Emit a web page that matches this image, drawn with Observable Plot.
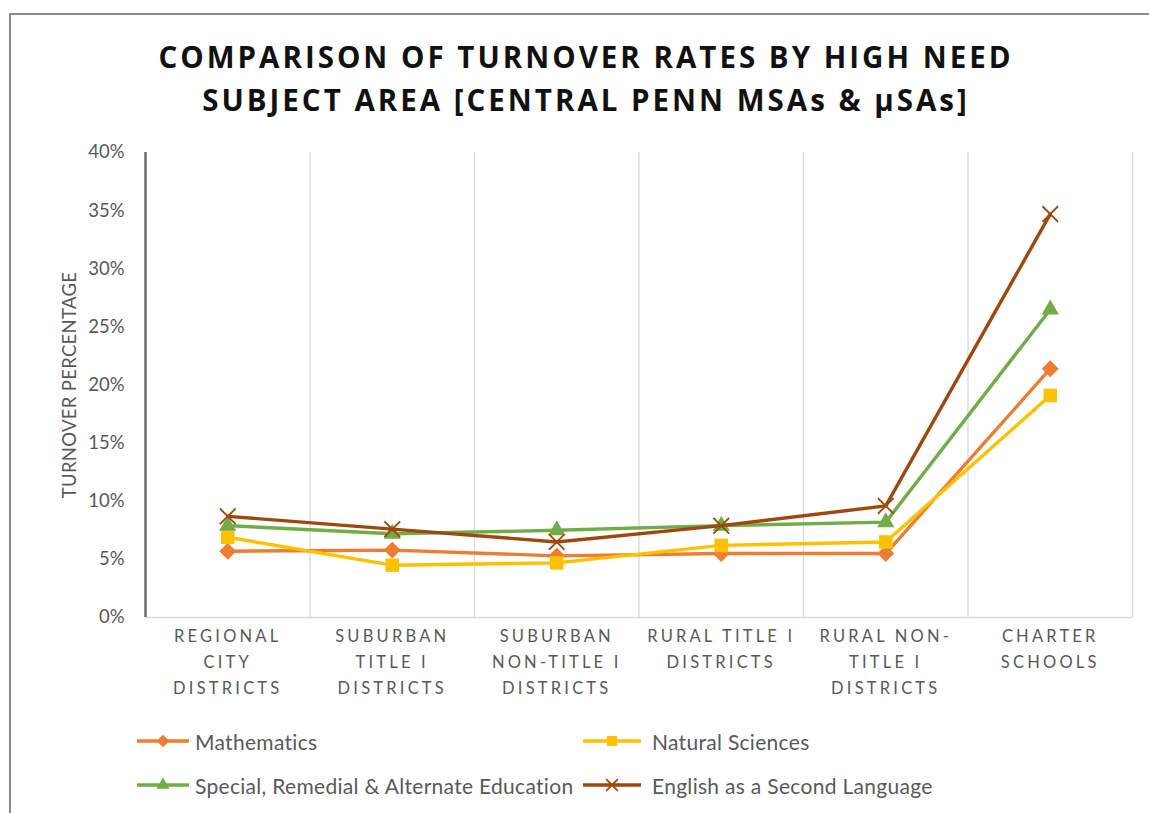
<!DOCTYPE html>
<html><head><meta charset="utf-8">
<script src="https://cdn.jsdelivr.net/npm/d3@7"></script>
<script src="https://cdn.jsdelivr.net/npm/@observablehq/plot@0.6"></script>
<style>
html,body{margin:0;overflow:hidden}
body{background:#fff;width:1149px;height:813px;position:relative;font-family:"Open Sans",sans-serif}
#frame{position:absolute;left:9px;top:13px;width:1138px;height:800px;border-left:2px solid #8c8c8c;border-top:2px solid #8c8c8c}
#title{position:absolute;left:0;width:1149px;padding-left:23px;box-sizing:border-box;top:35px;text-align:center;font-weight:700;font-size:29.5px;letter-spacing:3px;line-height:43px;color:#111}
#chart{position:absolute;left:0;top:135px}
.leg{position:absolute;display:flex;align-items:center;font-family:Lato,sans-serif;font-size:21px;letter-spacing:0.3px;color:#595959;white-space:nowrap}
</style></head>
<body>
<div id="frame"></div>
<div id="title">COMPARISON OF TURNOVER RATES BY HIGH NEED<br>SUBJECT AREA [CENTRAL PENN MSAs &amp; µSAs]</div>
<div id="chart"></div>
<div id="legend"></div>
<script>
const categories = ["REGIONAL\nCITY\nDISTRICTS", "SUBURBAN\nTITLE I\nDISTRICTS", "SUBURBAN\nNON-TITLE I\nDISTRICTS", "RURAL TITLE I\nDISTRICTS", "RURAL NON-\nTITLE I\nDISTRICTS", "CHARTER\nSCHOOLS"];
const seriesNames = ["Mathematics", "Natural Sciences", "Special, Remedial & Alternate Education", "English as a Second Language"];
const mathematics = [5.7, 5.8, 5.3, 5.5, 5.5, 21.4];
const naturalSciences = [6.9, 4.5, 4.7, 6.2, 6.5, 19.1];
const specialEducation = [7.9, 7.2, 7.5, 7.9, 8.2, 26.5];
const englishSecondLanguage = [8.7, 7.6, 6.5, 7.9, 9.6, 34.7];
const seriesColors = ["#ED7D31", "#FFC000", "#70AD47", "#9E480E"];
const seriesSymbols = ["diamond2", "square", "triangle", "times"];
const yTicks = [0, 5, 10, 15, 20, 25, 30, 35, 40];

const seriesValues = [mathematics, naturalSciences, specialEducation, englishSecondLanguage];
const symbolSizes = [7.6, 7.6, 6.4, 7.2];
const data = [];
seriesNames.forEach((s, si) => seriesValues[si].forEach((v, i) => data.push({series: s, pos: i + 0.5, value: v})));
const n = categories.length;

const marks = [
  Plot.ruleX(d3.range(1, n + 1), {y1: 0, y2: 40, stroke: "#d9d9d9", strokeWidth: 1.3}),
  Plot.ruleY([0], {stroke: "#d9d9d9", strokeWidth: 1.5}),
  Plot.ruleX([0], {y1: 0, y2: 40, stroke: "#6b6b6b", strokeWidth: 2.5})
];
seriesNames.forEach((s, si) => {
  const rows = data.filter(d => d.series === s);
  marks.push(Plot.line(rows, {x: "pos", y: "value", stroke: "series", strokeWidth: 3.4}));
  if (seriesSymbols[si] === "times") {
    marks.push(Plot.dot(rows, {x: "pos", y: "value", symbol: "times", stroke: "series", strokeWidth: 1.8, r: symbolSizes[si]}));
  } else {
    marks.push(Plot.dot(rows, {x: "pos", y: "value", symbol: seriesSymbols[si], fill: "series", stroke: "none", r: symbolSizes[si]}));
  }
});
marks.push(Plot.axisY({ticks: yTicks, tickFormat: d => d + "%", tickSize: 0, tickPadding: 21, fontSize: 18.5, fill: "#595959",
  label: "TURNOVER PERCENTAGE", labelAnchor: "center", labelOffset: 83, labelArrow: false}));
marks.push(Plot.axisX({ticks: d3.range(n).map(i => i + 0.5), tickFormat: d => categories[Math.floor(d)], tickSize: 0, tickPadding: 6,
  fontSize: 16.5, lineHeight: 1.58, fill: "#595959", label: null}));

const chart = Plot.plot({
  width: 1149, height: 585,
  marginLeft: 145, marginRight: 17, marginTop: 17, marginBottom: 103,
  x: {type: "linear", domain: [0, n]},
  y: {domain: [0, 40]},
  color: {domain: seriesNames, range: seriesColors},
  style: {fontFamily: "Lato, sans-serif", color: "#595959", overflow: "visible"},
  marks
});
chart.querySelectorAll("[aria-label='x-axis tick label'] text").forEach(t => t.style.letterSpacing = "3.2px");
chart.querySelectorAll("[aria-label='y-axis label'] text").forEach(t => {t.style.fontSize = "18.5px"; t.style.letterSpacing = "0.3px";});
document.getElementById("chart").appendChild(chart);

// legend
const legPos = [[137, 741], [583, 741], [137, 785], [583, 785]];
const legend = document.getElementById("legend");
const symMap = {diamond2: d3.symbolDiamond2, square: d3.symbolSquare, triangle: d3.symbolTriangle, times: d3.symbolTimes};
seriesNames.forEach((s, si) => {
  const div = document.createElement("div");
  div.className = "leg";
  div.style.left = legPos[si][0] + "px";
  div.style.top = (legPos[si][1] - 13) + "px";
  const w = si % 2 === 0 ? 52 : 58;
  const svg = d3.create("svg").attr("width", w).attr("height", 26).style("margin-right", (si % 2 === 0 ? 6 : 11) + "px");
  svg.append("line").attr("x1", 0).attr("x2", w).attr("y1", 13).attr("y2", 13).attr("stroke", seriesColors[si]).attr("stroke-width", 3.4);
  const rr = symbolSizes[si] * 0.75;
  const path = svg.append("path").attr("transform", `translate(${w / 2},13)`)
    .attr("d", d3.symbol(symMap[seriesSymbols[si]], Math.PI * rr * rr)());
  if (seriesSymbols[si] === "times") path.attr("fill", "none").attr("stroke", seriesColors[si]).attr("stroke-width", 1.8);
  else path.attr("fill", seriesColors[si]);
  div.appendChild(svg.node());
  const span = document.createElement("span");
  span.textContent = s;
  div.appendChild(span);
  legend.appendChild(div);
});
</script>
</body></html>
